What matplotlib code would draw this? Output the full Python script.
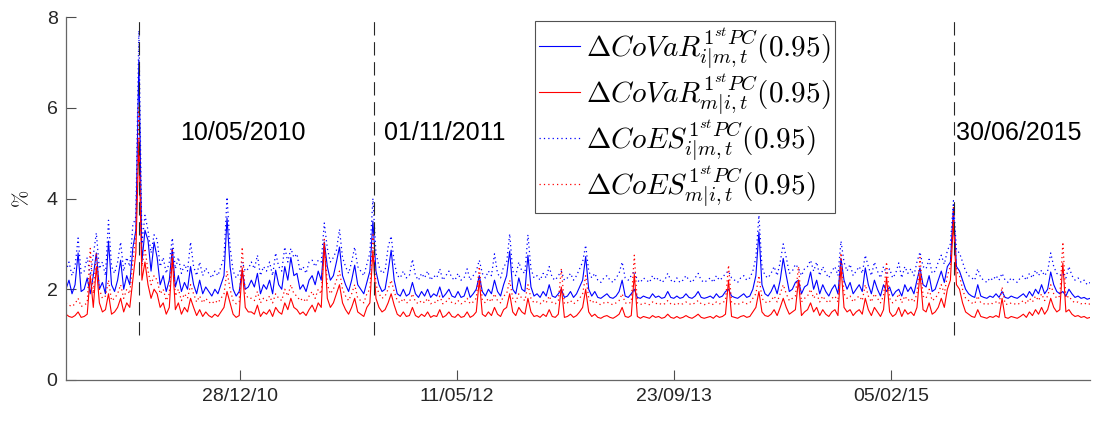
import numpy as np
import pandas as pd
import matplotlib
matplotlib.use("Agg")
import matplotlib.pyplot as plt
import matplotlib.dates as mdates

plt.rcParams['font.family'] = 'Liberation Sans'
plt.rcParams['mathtext.fontset'] = 'cm'

# weekly samples (%), starting 22/11/2009
covar_im = [
    2.0, 2.2, 1.9, 2.1, 2.8, 1.95, 2.0, 2.25, 1.9, 2.3,
    2.8, 2.0, 2.15, 1.9, 3.06, 2.1, 1.95, 2.2, 2.64, 2.0,
    2.3, 2.1, 2.9, 3.3, 7.05, 2.6, 3.3, 3.08, 2.4, 3.04,
    2.7, 2.1, 2.3, 1.95, 2.2, 2.9, 2.05, 2.3, 1.95, 2.15,
    2.0, 2.5, 2.1, 1.9, 2.2, 1.9, 2.05, 1.95, 1.85, 2.0,
    1.9, 2.1, 2.3, 3.57, 2.5, 2.0, 1.85, 1.95, 2.42, 2.0,
    2.05,
    2.2, 2.05, 2.35, 1.9, 2.1, 2.0, 2.2, 1.9, 2.42, 2.1,
    2.0, 2.5, 2.2, 2.7, 2.3, 2.35, 2.0, 2.1, 1.95, 2.2,
    2.3, 2.1, 2.4, 2.2, 3.04, 2.5, 2.2, 2.3, 2.6, 2.93,
    2.3, 2.1, 1.95, 2.2, 2.53, 2.1, 2.0, 1.9, 2.15, 2.4,
    3.5, 2.4, 2.1, 1.95, 2.0, 2.4, 2.86, 2.2, 1.9, 1.85,
    2.0, 1.85, 1.9, 2.15, 1.9, 1.82, 1.95, 1.85, 2.0, 1.82,
    1.9, 1.85, 2.05, 1.82, 1.9, 2.0, 1.85, 1.82, 1.95, 1.82,
    1.85, 2.05, 1.82, 1.9, 2.0, 2.3, 1.95, 1.85, 2.0, 1.9,
    2.2, 1.95, 1.85, 2.1, 2.3, 2.84, 2.0, 1.9, 2.25, 2.0,
    1.95, 2.75, 2.05, 1.85, 1.9, 1.82, 1.95, 1.85, 2.1, 1.85,
    1.82, 1.9, 2.0, 1.82, 1.85, 1.95, 1.82, 1.9, 2.05, 2.2,
    2.72, 2.0, 1.85, 1.95, 1.82, 1.8, 1.85, 1.9, 1.82, 1.8,
    1.85, 1.95, 2.2, 1.85, 1.82, 1.9, 2.0, 1.82, 1.8, 1.85,
    1.82, 1.8, 1.9, 1.82, 1.85, 1.8, 1.82, 1.95, 1.82, 1.8,
    1.85, 1.8, 1.82, 1.9, 1.82, 1.8, 1.85, 1.95, 1.82, 1.8,
    1.82, 1.85, 1.8, 1.9, 1.82, 1.85, 1.95, 2.0, 1.85, 1.82,
    1.8, 1.85, 1.9, 1.82, 1.85, 2.0, 2.3, 3.26, 2.1, 1.9,
    1.85, 1.95, 2.1, 1.9, 2.2, 2.68, 2.3, 1.95, 2.0, 2.15,
    2.2, 1.9, 2.05, 2.1, 2.38, 2.0, 2.2, 1.9, 2.1, 1.95,
    1.85, 2.0, 2.1, 1.9, 2.68, 2.2, 2.0, 2.15, 1.9, 2.0,
    2.1, 1.95, 2.47, 2.1, 1.9, 2.2, 2.0, 1.85, 2.1, 1.95,
    2.05, 1.85, 1.95, 2.0, 1.85, 2.1, 1.95, 2.05, 1.9, 2.2,
    2.47, 2.1, 2.05, 2.3, 1.95, 2.0, 2.2, 2.4, 2.15, 2.5,
    2.6, 3.78, 2.5, 2.4, 2.2, 2.0, 1.9, 1.85, 1.82, 2.1,
    1.85, 1.82, 1.8, 1.85, 1.82, 1.9, 1.82, 1.95, 1.82, 1.8,
    1.85, 1.82, 1.8, 1.85, 1.9, 1.82, 1.95, 1.85, 2.0, 1.9,
    2.1, 1.9, 2.0, 2.38, 2.1, 1.95, 1.9, 1.95, 1.85, 2.0,
    1.9, 1.82, 1.85, 1.8, 1.82, 1.78, 1.8,
]

covar_mi = [
    1.45, 1.4, 1.38, 1.42, 1.5, 1.38, 1.4, 1.45, 2.3, 1.6,
    2.5, 1.7, 1.5, 1.55, 1.9, 1.45, 1.5, 1.6, 1.8, 1.5,
    1.7, 1.6, 2.2, 2.8, 5.3, 2.2, 2.6, 2.1, 1.8, 2.0,
    1.9, 1.6, 1.7, 1.45, 1.6, 2.7, 1.55, 1.7, 1.45, 1.6,
    1.5, 1.8, 1.6, 1.42, 1.55, 1.4, 1.5, 1.42, 1.38, 1.45,
    1.4, 1.5, 1.6, 1.95, 1.7, 1.45, 1.38, 1.42, 2.47, 1.6,
    1.5,
    1.5, 1.45, 1.65, 1.4, 1.5, 1.45, 1.55, 1.4, 1.6, 1.5,
    1.45, 1.7, 1.55, 1.8, 1.6, 1.55, 1.45, 1.5, 1.42, 1.55,
    1.65, 1.5, 1.7, 1.6, 3.0, 1.8, 1.6, 1.7, 1.9, 2.1,
    1.7, 1.55, 1.45, 1.6, 1.8, 1.5, 1.45, 1.4, 1.6, 1.7,
    2.86, 1.8, 1.6, 1.5, 1.55, 1.7, 1.9, 1.65, 1.45, 1.4,
    1.5, 1.4, 1.42, 1.6, 1.42, 1.38, 1.45, 1.4, 1.5, 1.38,
    1.42, 1.4, 1.55, 1.38, 1.42, 1.5, 1.4, 1.38, 1.45, 1.38,
    1.4, 1.5, 1.38, 1.42, 1.5, 2.2, 1.45, 1.4, 1.5, 1.42,
    1.6, 1.45, 1.4, 1.55, 1.6, 1.9, 1.5, 1.42, 1.6, 1.5,
    1.45, 1.8, 1.5, 1.4, 1.42, 1.38, 1.45, 1.4, 1.55, 1.4,
    1.38, 1.45, 2.05, 1.38, 1.4, 1.45, 1.38, 1.42, 1.5, 1.6,
    2.0, 1.5, 1.4, 1.45, 1.38, 1.36, 1.4, 1.42, 1.38, 1.36,
    1.4, 1.45, 1.6, 1.4, 1.38, 1.42, 2.33, 1.4, 1.36, 1.4,
    1.38, 1.36, 1.42, 1.38, 1.4, 1.36, 1.38, 1.45, 1.38, 1.36,
    1.4, 1.36, 1.38, 1.42, 1.38, 1.36, 1.4, 1.45, 1.38, 1.36,
    1.38, 1.4, 1.36, 1.42, 1.38, 1.4, 1.45, 2.2, 1.4, 1.38,
    1.36, 1.4, 1.42, 1.38, 1.4, 1.5, 1.6, 1.95, 1.5, 1.42,
    1.4, 1.45, 1.55, 1.42, 1.6, 1.8, 1.6, 1.45, 1.5, 1.55,
    2.2, 1.42, 1.5, 1.55, 1.7, 1.5, 1.6, 1.42, 1.55, 1.45,
    1.4, 1.5, 1.55, 1.42, 2.5, 1.6, 1.5, 1.55, 1.42, 1.5,
    1.55, 1.45, 1.8, 1.55, 1.42, 1.6, 1.5, 1.4, 1.55, 2.27,
    1.5, 1.4, 1.45, 1.6, 1.4, 1.55, 1.45, 1.5, 1.42, 1.6,
    2.35, 1.55, 1.5, 1.7, 1.45, 1.5, 1.6, 1.8, 1.6, 2.0,
    2.2, 3.5, 2.1, 2.0, 1.7, 1.5, 1.45, 1.4, 1.38, 1.55,
    1.4, 1.38, 1.36, 1.4, 1.38, 1.42, 1.38, 1.8, 1.38, 1.36,
    1.4, 1.38, 1.36, 1.4, 1.45, 1.38, 1.5, 1.42, 1.55, 1.45,
    1.6, 1.45, 1.55, 1.8, 1.6, 1.5, 1.55, 2.58, 1.5, 1.55,
    1.45, 1.4, 1.42, 1.38, 1.4, 1.36, 1.38,
]

coes_im = [
    2.4, 2.6, 2.3, 2.5, 3.13, 2.35, 2.4, 2.7, 2.3, 2.75,
    3.24, 2.45, 2.6, 2.3, 3.52, 2.5, 2.35, 2.6, 3.04, 2.4,
    2.7, 2.5, 3.4, 3.6, 7.7, 3.0, 3.63, 3.3, 2.8, 3.2,
    3.1, 2.5, 2.7, 2.35, 2.6, 3.13, 2.45, 2.7, 2.35, 2.55,
    2.4, 3.04, 2.5, 2.3, 2.6, 2.3, 2.47, 2.35, 2.25, 2.4,
    2.3, 2.5, 2.7, 4.03, 2.93, 2.4, 2.25, 2.35, 2.6, 2.4,
    2.45,
    2.6, 2.45, 2.75, 2.3, 2.5, 2.4, 2.6, 2.3, 2.8, 2.5,
    2.4, 2.93, 2.6, 2.9, 2.7, 2.78, 2.4, 2.5, 2.35, 2.6,
    2.64, 2.5, 2.64, 2.6, 3.46, 2.9, 2.6, 2.7, 2.86, 3.32,
    2.7, 2.5, 2.35, 2.6, 2.93, 2.5, 2.4, 2.3, 2.55, 2.8,
    4.0, 2.8, 2.5, 2.35, 2.4, 2.93, 3.17, 2.6, 2.3, 2.25,
    2.4, 2.25, 2.3, 2.66, 2.3, 2.2, 2.35, 2.25, 2.4, 2.2,
    2.3, 2.25, 2.45, 2.2, 2.3, 2.4, 2.25, 2.2, 2.35, 2.2,
    2.25, 2.45, 2.2, 2.3, 2.4, 2.64, 2.35, 2.25, 2.4, 2.3,
    2.78, 2.35, 2.25, 2.5, 2.58, 3.22, 2.4, 2.3, 2.6, 2.4,
    2.35, 3.2, 2.45, 2.25, 2.3, 2.2, 2.35, 2.25, 2.5, 2.25,
    2.2, 2.3, 2.4, 2.2, 2.25, 2.35, 2.2, 2.3, 2.45, 2.6,
    2.97, 2.4, 2.25, 2.35, 2.2, 2.15, 2.25, 2.3, 2.2, 2.15,
    2.25, 2.35, 2.6, 2.25, 2.2, 2.3, 2.4, 2.2, 2.15, 2.25,
    2.2, 2.15, 2.3, 2.2, 2.25, 2.15, 2.2, 2.35, 2.2, 2.15,
    2.25, 2.15, 2.2, 2.3, 2.2, 2.15, 2.25, 2.35, 2.2, 2.15,
    2.2, 2.25, 2.15, 2.3, 2.2, 2.25, 2.35, 2.4, 2.25, 2.2,
    2.15, 2.25, 2.3, 2.2, 2.25, 2.4, 2.7, 3.63, 2.5, 2.3,
    2.25, 2.35, 2.5, 2.3, 2.6, 3.0, 2.7, 2.35, 2.4, 2.55,
    2.47, 2.3, 2.45, 2.5, 2.64, 2.4, 2.6, 2.3, 2.5, 2.35,
    2.25, 2.4, 2.5, 2.3, 3.06, 2.6, 2.4, 2.55, 2.3, 2.4,
    2.5, 2.35, 2.75, 2.5, 2.3, 2.6, 2.4, 2.25, 2.5, 2.35,
    2.45, 2.25, 2.35, 2.58, 2.25, 2.5, 2.35, 2.45, 2.3, 2.6,
    2.82, 2.5, 2.45, 2.66, 2.35, 2.4, 2.6, 2.75, 2.55, 2.85,
    3.0, 3.95, 2.86, 2.8, 2.6, 2.4, 2.3, 2.25, 2.2, 2.45,
    2.25, 2.2, 2.15, 2.25, 2.2, 2.3, 2.2, 2.35, 2.2, 2.15,
    2.25, 2.2, 2.15, 2.25, 2.3, 2.2, 2.35, 2.25, 2.42, 2.3,
    2.42, 2.3, 2.4, 2.8, 2.5, 2.35, 2.3, 2.35, 2.25, 2.5,
    2.3, 2.2, 2.25, 2.15, 2.2, 2.1, 2.15,
]

coes_mi = [
    1.7, 1.65, 1.62, 1.68, 1.8, 1.62, 1.65, 1.7, 2.9, 1.9,
    2.8, 2.0, 1.8, 1.85, 2.2, 1.75, 1.8, 1.9, 2.1, 1.8,
    2.0, 1.9, 2.6, 3.2, 6.0, 2.5, 2.9, 2.4, 2.1, 2.3,
    2.2, 1.9, 2.0, 1.75, 1.9, 2.9, 1.85, 2.0, 1.75, 1.9,
    1.8, 2.1, 1.9, 1.72, 1.85, 1.7, 1.8, 1.72, 1.68, 1.75,
    1.7, 1.8, 1.9, 2.4, 2.0, 1.75, 1.68, 1.72, 2.93, 1.9,
    1.8,
    1.8, 1.75, 1.95, 1.7, 1.8, 1.75, 1.85, 1.7, 1.9, 1.8,
    1.75, 2.0, 1.85, 2.1, 1.9, 1.85, 1.75, 1.8, 1.72, 1.85,
    1.95, 1.8, 2.0, 1.9, 3.1, 2.1, 1.9, 2.0, 2.2, 2.4,
    2.0, 1.85, 1.75, 1.9, 2.1, 1.8, 1.75, 1.7, 1.9, 2.0,
    3.2, 2.1, 1.9, 1.8, 1.85, 2.0, 2.2, 1.95, 1.75, 1.7,
    1.8, 1.7, 1.72, 1.9, 1.72, 1.68, 1.75, 1.7, 1.8, 1.68,
    1.72, 1.7, 1.85, 1.68, 1.72, 1.8, 1.7, 1.68, 1.75, 1.68,
    1.7, 1.8, 1.68, 1.72, 1.8, 2.5, 1.75, 1.7, 1.8, 1.72,
    1.9, 1.75, 1.7, 1.85, 1.9, 2.2, 1.8, 1.72, 1.9, 1.8,
    1.75, 2.1, 1.8, 1.7, 1.72, 1.68, 1.75, 1.7, 1.85, 1.7,
    1.68, 1.75, 2.45, 1.68, 1.7, 1.75, 1.68, 1.72, 1.8, 1.9,
    2.3, 1.8, 1.7, 1.75, 1.68, 1.66, 1.7, 1.72, 1.68, 1.66,
    1.7, 1.75, 1.9, 1.7, 1.68, 1.72, 2.75, 1.7, 1.66, 1.7,
    1.68, 1.66, 1.72, 1.68, 1.7, 1.66, 1.68, 1.75, 1.68, 1.66,
    1.7, 1.66, 1.68, 1.72, 1.68, 1.66, 1.7, 1.75, 1.68, 1.66,
    1.68, 1.7, 1.66, 1.72, 1.68, 1.7, 1.75, 2.53, 1.7, 1.68,
    1.66, 1.7, 1.72, 1.68, 1.7, 1.8, 1.9, 2.3, 1.8, 1.72,
    1.7, 1.75, 1.85, 1.72, 1.9, 2.1, 1.9, 1.75, 1.8, 1.85,
    2.5, 1.72, 1.8, 1.85, 2.0, 1.8, 1.9, 1.72, 1.85, 1.75,
    1.7, 1.8, 1.85, 1.72, 2.8, 1.9, 1.8, 1.85, 1.72, 1.8,
    1.85, 1.75, 2.1, 1.85, 1.72, 1.9, 1.8, 1.7, 1.85, 2.6,
    1.8, 1.7, 1.75, 1.9, 1.7, 1.85, 1.75, 1.8, 1.72, 1.9,
    2.7, 1.85, 1.8, 2.0, 1.75, 1.8, 1.9, 2.1, 1.9, 2.3,
    2.5, 3.8, 2.4, 2.3, 2.0, 1.8, 1.75, 1.7, 1.68, 1.85,
    1.7, 1.68, 1.66, 1.7, 1.68, 1.72, 1.68, 2.05, 1.68, 1.66,
    1.7, 1.68, 1.66, 1.7, 1.75, 1.68, 1.8, 1.72, 1.85, 1.75,
    1.9, 1.75, 1.85, 2.1, 1.9, 1.8, 1.85, 3.04, 1.8, 1.85,
    1.75, 1.7, 1.72, 1.68, 1.7, 1.66, 1.68,
]

event_dates = ['2010-05-10', '2011-11-01', '2015-06-30']
event_labels = ['10/05/2010', '01/11/2011', '30/06/2015']
tick_dates = ['2010-12-28', '2012-05-11', '2013-09-23', '2015-02-05']

labels = [r'$\Delta CoVaR^{1^{st}PC}_{i|m,t}(0.95)$',
          r'$\Delta CoVaR^{1^{st}PC}_{m|i,t}(0.95)$',
          r'$\Delta CoES^{1^{st}PC}_{i|m,t}(0.95)$',
          r'$\Delta CoES^{1^{st}PC}_{m|i,t}(0.95)$']


def week_dates(vals):
    return pd.date_range('2009-11-22', periods=len(vals), freq='7D')


fig = plt.figure(figsize=(10.99, 4.21), dpi=100)
ax = fig.add_axes([0.060, 0.0974, 0.932, 0.8622])

ax.plot(week_dates(covar_im), covar_im, '-', color='#0000ff', lw=0.8, label=labels[0])
ax.plot(week_dates(covar_mi), covar_mi, '-', color='#ff0000', lw=0.8, label=labels[1])
ax.plot(week_dates(coes_im), coes_im, color='#0000ff', lw=0.9, ls=(0, (1, 2.5)), label=labels[2])
ax.plot(week_dates(coes_mi), coes_mi, color='#ff0000', lw=0.9, ls=(0, (1, 2.5)), label=labels[3])

ev = pd.to_datetime(event_dates)
ax.vlines(ev, 1, 8, colors='0.15', linestyles=(0, (12, 6)), lw=0.8)

# text positions (layout only)
text_x = pd.to_datetime(['2010-08-12', '2011-11-25', '2015-07-05'])
for tx, lab in zip(text_x, event_labels):
    ax.text(tx, 5.45, lab, fontsize=18, va='center', ha='left', color='k')

d0 = week_dates(covar_im)
ax.set_xlim(d0[0], d0[-1])
ax.set_ylim(0, 8)
ax.set_yticks([0, 2, 4, 6, 8])
ax.set_xticks(pd.to_datetime(tick_dates))
ax.xaxis.set_major_formatter(mdates.DateFormatter('%d/%m/%y'))

for s in ['top', 'right']:
    ax.spines[s].set_visible(False)
for s in ['left', 'bottom']:
    ax.spines[s].set_color('0.4')
    ax.spines[s].set_linewidth(0.9)
ax.tick_params(direction='in', length=7.5, width=0.8, color='0.3',
               labelsize=14, labelcolor='0.15', pad=6)
ax.set_ylabel(r'$\%$', fontsize=15, labelpad=10)

leg = ax.legend(loc='upper left', bbox_to_anchor=(0.458, 0.99), fontsize=21,
                frameon=True, fancybox=False, edgecolor='0.15',
                handlelength=1.4, handletextpad=0.2, labelspacing=0.0,
                borderpad=0.15, borderaxespad=0)
leg.get_frame().set_linewidth(0.8)

fig.savefig('out.png', dpi=100)
